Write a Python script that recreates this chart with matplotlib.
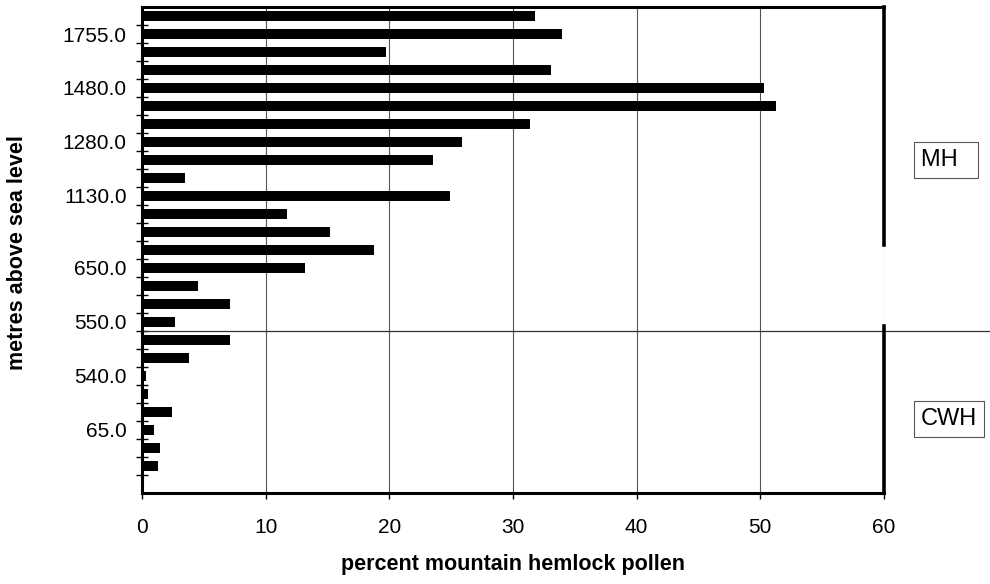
import numpy as np
import matplotlib.pyplot as plt

# percent mountain hemlock pollen, bars listed top to bottom
pollen = [31.8, 34.0, 19.7, 33.1, 50.3, 51.3, 31.4, 25.9, 23.5, 3.5,
          24.9, 11.7, 15.2, 18.8, 13.2, 4.55, 7.1, 2.7, 7.1, 3.8,
          0.35, 0.45, 2.4, 1.0, 1.45, 1.3]
n_slots = 27  # one empty slot at the bottom

# elevation labels and the bar they sit on
elev_labels = ['1755.0', '1480.0', '1280.0', '1130.0', '650.0', '550.0', '540.0', '65.0']
elev_idx = [1, 4, 7, 10, 14, 17, 20, 23]

# zone boundary between MH and CWH (in bar slots)
zone_split = 17.5
mh_end = 12.7
cwh_start = 17.2

plt.rcParams['font.family'] = ['Liberation Sans', 'DejaVu Sans']

fig = plt.figure(figsize=(9.9, 5.84), dpi=100)
ax = fig.add_axes([0.1434, 0.156, 0.7495, 0.832])

y = np.arange(len(pollen))
ax.barh(y, pollen, height=0.57, color='black', zorder=3)

ax.set_xlim(0, 60)
ax.set_ylim(n_slots - 0.5, -0.5)

ax.set_xticks(np.arange(0, 61, 10))
ax.tick_params(axis='x', direction='out', length=4, width=1, labelsize=15, pad=14)
ax.xaxis.grid(True, color='#555555', lw=0.8, zorder=0)

ax.set_yticks(elev_idx)
ax.set_yticklabels(elev_labels)
ax.tick_params(axis='y', which='major', length=0, labelsize=15, pad=11)
ax.set_yticks(np.arange(n_slots - 1) + 0.5, minor=True)
ax.tick_params(axis='y', which='minor', direction='inout', length=8, width=1)

for s in ['left', 'top', 'bottom']:
    ax.spines[s].set_linewidth(2.2)
ax.spines['right'].set_visible(False)

# zone brackets on the right edge
ax.plot([60, 60], [-0.5, mh_end], color='black', lw=2.6, clip_on=False, zorder=4)
ax.plot([60, 60], [cwh_start, n_slots - 0.5], color='black', lw=2.6, clip_on=False, zorder=4)
ax.axhline(zone_split, xmin=0, xmax=1.16, color='#333333', lw=0.9, clip_on=False, zorder=2)

box = dict(boxstyle='square,pad=0.3', fc='white', ec='#555555', lw=0.8)
ax.text(1.05, 8.0, 'MH  ', transform=ax.get_yaxis_transform(), fontsize=17,
        va='center', ha='left', bbox=box)
ax.text(1.05, 22.4, 'CWH', transform=ax.get_yaxis_transform(), fontsize=17,
        va='center', ha='left', bbox=box)

ax.set_xlabel('percent mountain hemlock pollen', fontsize=15.5, fontweight='bold', labelpad=12)
fig.text(0.018, 0.568, 'metres above sea level', rotation=90, fontsize=15.5,
         fontweight='bold', va='center', ha='center')

fig.savefig('out.png', dpi=100)
